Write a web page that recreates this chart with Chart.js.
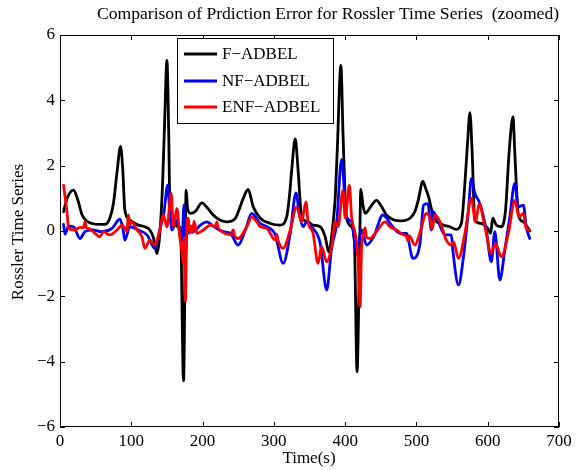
<!DOCTYPE html>
<html>
<head>
<meta charset="utf-8">
<title>Rossler prediction error</title>
<script src="https://cdn.jsdelivr.net/npm/chart.js@4.4.1/dist/chart.umd.min.js"></script>
<style>
  html, body { margin: 0; padding: 0; background: #fff; }
  #wrap { width: 583px; height: 470px; position: relative; }
</style>
</head>
<body>
<div id="wrap"><canvas id="errChart"></canvas></div>
<script>
// Axis ticks
const xTicks = [0, 100, 200, 300, 400, 500, 600, 700];
const yTicks = [-6, -4, -2, 0, 2, 4, 6];

// F-ADBEL (black)
const fTime = [5, 10, 19, 25, 31, 38, 45, 55, 63, 70, 75, 80, 85, 88, 91, 98, 110, 119, 126, 131, 136, 140, 144, 147, 150, 152.5, 154, 159, 166, 169, 173.3, 177, 179, 183, 190, 199, 207, 215, 225, 234, 246, 252, 257, 264, 271, 281, 295, 309, 318, 322, 325, 330, 334, 339, 348, 355, 365, 372, 377, 383, 386, 389, 394, 397, 400, 402, 409, 413, 416.7, 420, 422, 425, 428, 436, 444, 451, 458, 467, 477, 491, 498, 502.5, 509, 513, 517, 524, 533, 547, 556, 563, 568, 572, 575, 578, 582, 591, 600, 604, 607, 612, 619, 625, 630, 635.5, 638, 643, 650, 659];
const fError = [0.59, 1.0, 1.25, 0.95, 0.49, 0.3, 0.23, 0.2, 0.2, 0.4, 0.85, 1.8, 2.59, 1.9, 0.64, 0.33, 0.18, 0.13, 0.03, -0.2, -0.69, -0.1, 1.5, 3.5, 5.22, 3.0, 0.94, 0.28, 0.13, 0.1, -4.59, 1.25, 0.7, 0.54, 0.6, 0.86, 0.7, 0.49, 0.33, 0.28, 0.39, 0.7, 1.0, 1.27, 0.74, 0.39, 0.23, 0.18, 0.43, 1.1, 1.86, 2.82, 1.86, 0.43, 0.28, 0.18, 0.13, -0.18, -0.64, 0.23, 1.0, 2.5, 5.07, 3.0, 1.0, 0.4, 0.13, -0.3, -4.31, -1.0, 1.27, 0.8, 0.54, 0.75, 0.94, 0.75, 0.49, 0.35, 0.31, 0.39, 0.6, 0.94, 1.52, 1.3, 1.05, 0.43, 0.23, 0.13, 0.05, 0.23, 1.46, 2.8, 3.62, 2.5, 0.33, 0.23, 0.08, -0.07, 0.39, 0.18, 0.13, 0.64, 2.4, 3.5, 2.4, 0.49, 0.28, 0.0];

// NF-ADBEL (blue)
const nfTime = [5, 7, 12, 19, 28, 35, 45, 59, 73, 84, 88, 91, 98, 110, 122, 133, 140, 146, 151, 154, 157, 164, 168, 171, 174, 176, 178, 187, 197, 206, 215, 229, 239, 250, 260, 269, 281, 290, 302, 313, 323, 331, 336, 341, 346, 355, 365, 374, 381, 388, 395, 402, 409, 416, 423, 430, 440, 453, 465, 477, 486, 495, 505, 510, 516, 521, 523, 530, 540, 549, 551, 559, 566, 573, 577, 582, 589, 598, 605, 610, 617, 624, 631, 638, 643, 650, 654, 659];
const nfError = [0.2, -0.1, 0.15, 0.13, -0.23, -0.02, 0.03, -0.02, 0.08, 0.36, 0.1, -0.28, 0.13, 0.03, -0.12, -0.53, 0.03, 0.6, 1.4, 0.6, 0.03, 0.33, -0.07, -0.33, 0.8, -0.89, -0.07, -0.02, 0.18, 0.28, 0.15, -0.02, -0.07, -0.43, 0.03, 0.54, 0.23, 0.13, -0.12, -0.99, -0.07, 1.17, 0.5, 0.13, 0.28, 0.08, -0.38, -1.81, -0.53, 0.23, 2.19, 0.43, 0.28, -0.69, 0.03, -0.43, -0.18, 0.49, 0.18, -0.07, -0.07, -0.84, -0.38, 0.79, 0.84, 0.03, 0.6, 0.33, -0.12, -0.12, -0.58, -1.65, -0.79, 0.64, 1.61, 1.15, 0.84, 0.03, -0.94, -0.02, -1.5, -0.58, 0.43, 1.46, 0.74, 0.79, 0.13, -0.23];

// ENF-ADBEL (red)
const enfTime = [5, 10, 12, 21, 28, 33, 35, 37, 40, 49, 56, 61, 70, 80, 87, 92, 94, 96, 98, 101, 108, 115, 119, 126, 133, 140, 145, 150, 156, 159, 164, 168, 171, 173, 174, 176, 178, 180, 182, 184, 186, 188, 192, 201, 211, 218, 220, 222, 227, 239, 243, 245, 250, 262, 269, 276, 281, 290, 302, 304, 306, 313, 323, 332, 339, 345, 348, 355, 362, 367, 374, 381, 386, 390, 397, 400, 406, 409, 414, 418, 421, 423, 425, 428, 430, 435, 444, 456, 463, 472, 482, 486, 488, 490, 498, 505, 514, 519, 522, 526, 533, 542, 549, 552, 559, 568, 577, 583, 588, 596, 605, 611, 619, 629, 638, 644, 650, 654, 659];
const enfError = [1.4, 0.54, 0.08, 0.03, 0.11, 0.1, 0.28, 0.1, 0.08, -0.07, -0.18, -0.02, -0.12, 0.03, 0.18, 0.05, -0.02, 0.49, 0.2, 0.28, 0.03, -0.18, -0.53, -0.28, -0.43, 0.03, 0.49, 0.13, 1.15, 0.13, 0.69, -0.18, -0.6, -0.99, -0.2, -2.16, 0.33, 0.39, -0.07, 0.15, -0.05, 0.3, -0.07, 0.03, 0.18, 0.13, 0.28, 0.1, -0.02, -0.12, 0.03, -0.15, -0.23, 0.13, 0.43, 0.28, 0.13, 0.08, -0.28, -0.1, -0.3, -0.53, 0.03, 0.74, 0.28, 0.89, 0.28, -0.07, -0.99, -0.48, -0.94, -0.48, 0.28, 0.13, 1.25, 0.4, 1.4, 0.43, -0.07, -0.8, -2.32, -0.5, -0.18, 0.1, -0.2, -0.23, -0.02, 0.28, 0.13, 0.03, -0.12, -0.15, -0.3, -0.15, -0.43, -0.05, 0.54, 0.39, 0.05, 0.49, 0.28, -0.28, -0.43, -0.33, -0.84, -0.07, 1.0, 0.28, 0.84, 0.13, -0.69, -0.38, -0.79, -0.07, 0.94, 0.43, 0.54, 0.08, 0.03];

const serif = "'Liberation Serif', 'DejaVu Serif', serif";
const fontSize = 17;

function toPoints(xs, ys) {
    return xs.map((x, i) => ({ x: x, y: ys[i] }));
}

function fmtMinus(v) {
    return String(v).replace('-', '\u2212');
}

/**
 * Matlab-like frame: box, inward ticks, title, axis titles and legend
 */
const matlabFrame = {
    id: 'matlabFrame',
    afterDraw(chart) {
        const ctx = chart.ctx;
        const a = chart.chartArea;
        const xs = chart.scales.x;
        const ys = chart.scales.y;
        const tick = 5;

        ctx.save();
        ctx.strokeStyle = '#000';
        ctx.lineWidth = 1;
        ctx.strokeRect(a.left + 0.5, a.top + 0.5, a.right - a.left - 1, a.bottom - a.top - 1);

        ctx.beginPath();
        xTicks.forEach(v => {
            const px = Math.round(xs.getPixelForValue(v)) + 0.5;
            ctx.moveTo(px, a.bottom);
            ctx.lineTo(px, a.bottom - tick);
            ctx.moveTo(px, a.top);
            ctx.lineTo(px, a.top + tick);
        });
        yTicks.forEach(v => {
            const py = Math.round(ys.getPixelForValue(v)) + 0.5;
            ctx.moveTo(a.left, py);
            ctx.lineTo(a.left + tick, py);
            ctx.moveTo(a.right, py);
            ctx.lineTo(a.right - tick, py);
        });
        ctx.stroke();

        // title and axis titles
        ctx.fillStyle = '#000';
        ctx.textAlign = 'center';
        ctx.textBaseline = 'middle';
        ctx.font = '17.6px ' + serif;
        ctx.fillText('Comparison of Prdiction Error for Rossler Time Series  (zoomed)', 328, 14);
        ctx.font = fontSize + 'px ' + serif;
        ctx.fillText('Time(s)', 309, 459);
        ctx.save();
        ctx.translate(19, 232);
        ctx.rotate(-Math.PI / 2);
        ctx.fillText('Rossler Time Series', 0, 0);
        ctx.restore();

        // legend
        const box = { left: 177, top: 38, right: 333, bottom: 123 };
        ctx.fillStyle = '#fff';
        ctx.fillRect(box.left, box.top, box.right - box.left, box.bottom - box.top);
        ctx.strokeRect(box.left + 0.5, box.top + 0.5, box.right - box.left, box.bottom - box.top);
        const rows = [54, 81, 107];
        ctx.textAlign = 'left';
        chart.data.datasets.forEach((ds, i) => {
            ctx.strokeStyle = ds.borderColor;
            ctx.lineWidth = 2.8;
            ctx.beginPath();
            ctx.moveTo(184, rows[i]);
            ctx.lineTo(217, rows[i]);
            ctx.stroke();
            ctx.fillStyle = '#000';
            ctx.fillText(ds.label, 222, rows[i] + 1);
        });
        ctx.restore();
    }
};

const ctx = document.getElementById('errChart').getContext('2d');
const errChart = new Chart(ctx, {
    type: 'line',
    data: {
        datasets: [
            {
                label: 'F\u2212ADBEL',
                data: toPoints(fTime, fError),
                borderColor: '#000000',
                borderWidth: 2.8,
                order: 3
            },
            {
                label: 'NF\u2212ADBEL',
                data: toPoints(nfTime, nfError),
                borderColor: '#0000ff',
                borderWidth: 2.8,
                order: 2
            },
            {
                label: 'ENF\u2212ADBEL',
                data: toPoints(enfTime, enfError),
                borderColor: '#ff0000',
                borderWidth: 2.8,
                order: 1
            }
        ]
    },
    options: {
        responsive: true,
        maintainAspectRatio: false,
        animation: false,
        devicePixelRatio: 1,
        layout: {
            padding: { top: 35, right: 24, left: 0, bottom: 0 }
        },
        elements: {
            point: { radius: 0 },
            line: { cubicInterpolationMode: 'monotone', borderJoinStyle: 'round', borderCapStyle: 'round' }
        },
        plugins: {
            legend: { display: false },
            title: { display: false },
            tooltip: { enabled: false }
        },
        scales: {
            x: {
                type: 'linear',
                min: 0,
                max: 700,
                grid: { display: false, drawTicks: false },
                border: { display: false },
                afterBuildTicks: function(scale) {
                    scale.ticks = xTicks.map(v => ({ value: v }));
                },
                afterFit: function(scale) {
                    scale.height = 43;
                },
                ticks: {
                    padding: 4,
                    maxRotation: 0,
                    color: '#000',
                    font: { family: serif, size: fontSize },
                    callback: function(value) {
                        return fmtMinus(value);
                    }
                }
            },
            y: {
                min: -6,
                max: 6,
                grid: { display: false, drawTicks: false },
                border: { display: false },
                afterBuildTicks: function(scale) {
                    scale.ticks = yTicks.map(v => ({ value: v }));
                },
                afterFit: function(scale) {
                    scale.width = 60;
                },
                ticks: {
                    padding: 5,
                    color: '#000',
                    font: { family: serif, size: fontSize },
                    callback: function(value) {
                        return fmtMinus(value);
                    }
                }
            }
        }
    },
    plugins: [matlabFrame]
});
</script>
</body>
</html>
